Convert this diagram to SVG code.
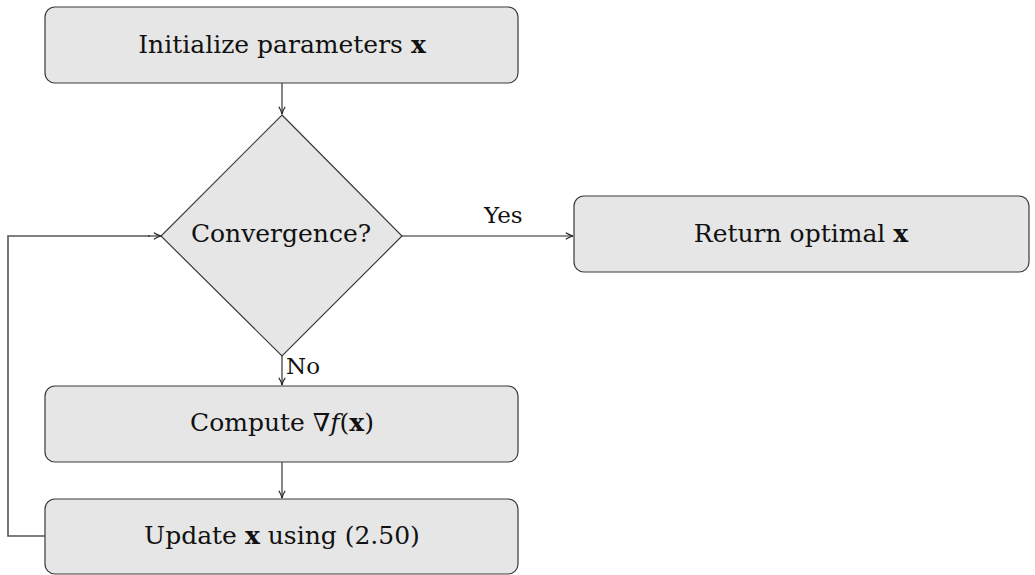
<svg xmlns="http://www.w3.org/2000/svg" width="1035" height="575" viewBox="0 0 1035 575">
  <style>
    .box { fill: #e6e6e6; stroke: #3a3a3a; stroke-width: 1.2; }
    .lbl { font-family: "DejaVu Serif", "Liberation Serif", serif; font-size: 25px; fill: #111; text-anchor: middle; }
    .edge { font-family: "DejaVu Serif", "Liberation Serif", serif; font-size: 23px; fill: #111; }
    .conn { fill: none; stroke: #222; stroke-width: 1.1; }
    .loop { fill: none; stroke: #555; stroke-width: 1.6; }
    .b { font-weight: bold; }
    .i { font-style: italic; }
  </style>
  <defs>
    <marker id="arrow" viewBox="0 0 10 10" refX="9" refY="5" markerWidth="9" markerHeight="9" markerUnits="userSpaceOnUse" orient="auto">
      <path d="M1,1.5 Q5,4 9,5 Q5,6 1,8.5" fill="none" stroke="#222" stroke-width="1.3"/>
    </marker>
  </defs>

  <g id="connectors">
    <line class="conn" x1="282" y1="83" x2="282" y2="114" marker-end="url(#arrow)"/>
    <line class="conn" x1="402" y1="236" x2="573" y2="236" marker-end="url(#arrow)"/>
    <line class="conn" x1="282" y1="356" x2="282" y2="385" marker-end="url(#arrow)"/>
    <line class="conn" x1="282" y1="461" x2="282" y2="498" marker-end="url(#arrow)"/>
    <polyline class="loop" points="45,536 8,536 8,236 150,236"/>
    <line class="conn" x1="148" y1="236" x2="161" y2="236" marker-end="url(#arrow)"/>
    <text class="edge" x="484" y="223">Yes</text>
    <text class="edge" x="286" y="374">No</text>
  </g>

  <g id="init">
    <rect class="box" x="45" y="7" width="473" height="76" rx="10"/>
    <text class="lbl" x="282" y="53">Initialize parameters <tspan class="b">x</tspan></text>
  </g>

  <g id="converge">
    <polygon class="box" points="282,115 402,236 282,356 161,236"/>
    <text class="lbl" x="281" y="242">Convergence?</text>
  </g>

  <g id="return">
    <rect class="box" x="574" y="196" width="455" height="76" rx="10"/>
    <text class="lbl" x="801" y="242">Return optimal <tspan class="b">x</tspan></text>
  </g>

  <g id="gradient">
    <rect class="box" x="45" y="386" width="473" height="76" rx="10"/>
    <text class="lbl" x="282" y="431">Compute ∇<tspan class="i">f</tspan>(<tspan class="b">x</tspan>)</text>
  </g>

  <g id="update">
    <rect class="box" x="45" y="499" width="473" height="75" rx="10"/>
    <text class="lbl" x="282" y="544">Update <tspan class="b">x</tspan> using (2.50)</text>
  </g>
</svg>
